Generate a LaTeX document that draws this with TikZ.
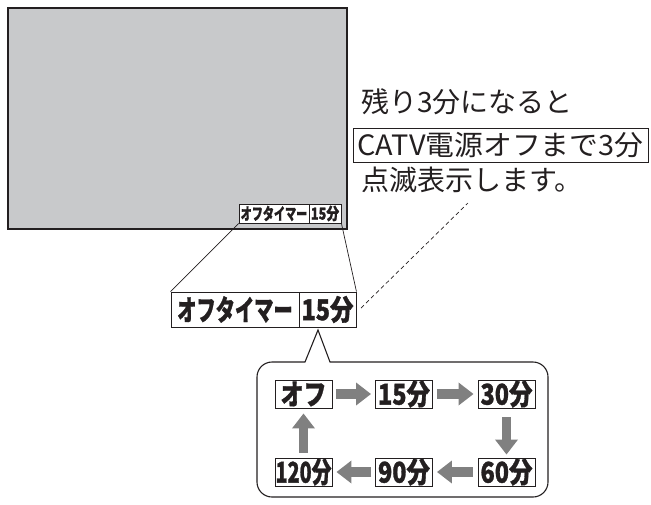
\documentclass[tikz,border=0pt]{standalone}
\usepackage{fontspec}
\usepackage{graphicx}
\newfontfamily\jp{Noto Sans CJK JP}[BoldFeatures={FakeBold=1.2}]
\usetikzlibrary{arrows.meta}
\definecolor{scr}{RGB}{200,201,203}
\definecolor{ink}{RGB}{35,31,32}
\definecolor{arr}{RGB}{128,128,128}
\newcommand{\cnd}[2][0.76]{\scalebox{#1}[1.1]{#2}}
\tikzset{
  lbl/.style={draw=ink, line width=0.9pt, fill=white, inner sep=0pt, text=ink, font=\jp\bfseries},
  big/.style={lbl, minimum height=35pt, font=\jp\bfseries\fontsize{26}{26}\selectfont},
  small/.style={lbl, minimum height=19pt, font=\jp\bfseries\fontsize{15}{15}\selectfont},
  stepbox/.style={lbl, minimum width=57pt, minimum height=28pt, font=\jp\bfseries\fontsize{26}{26}\selectfont},
  garrow/.style={draw=arr, line width=9.5pt, -{Triangle[length=15pt,width=22pt]}},
  note/.style={inner sep=0pt, text=ink, font=\jp\fontsize{28}{28}\selectfont},
}
\begin{document}
\begin{tikzpicture}[x=1pt,y=-1pt]
\useasboundingbox (0,0) rectangle (651,504);
% screen
\node (screen) [draw=ink, line width=1.4pt, fill=scr, minimum width=339pt, minimum height=221pt, inner sep=0pt] at (177.5,118.5) {};
\node (s1) [small, minimum width=70pt] at (274,213.5) {\cnd[0.74]{オフタイマー}};
\node (s2) [small, minimum width=32pt] at (325,213.5) {\cnd[0.85]{15分}};
% enlarged label
\node (b1) [big, minimum width=128pt] at (235,309.5) {\cnd[0.74]{オフタイマー}};
\node (b2) [big, minimum width=57pt] at (327.5,309.5) {\cnd[0.9]{15分}};
\draw[ink, line width=0.7pt] (s1.south west) -- (b1.north west);
\draw[ink, line width=0.7pt] (s2.south east) -- (b2.north east);
% note text
\node (t1) [note, anchor=west] at (361,102) {残り3分になると};
\node (t2) [note, draw=ink, line width=0.8pt, minimum width=295pt, minimum height=34pt] at (500.5,145) {\scalebox{1.03}[1]{CATV電源オフまで3分}};
\node (t3) [note, anchor=west] at (361,180) {点滅表示します。};
\coordinate (d1) at (361,308);
\coordinate (d2) at (468,203);
\draw[ink, line width=0.7pt, dash pattern=on 4pt off 3pt] (d1) -- (d2);
% bubble
\draw[ink, line width=1.1pt] (305,362) -- (318,330) -- (330,362) [rounded corners=15pt] -- (548,362) -- (548,497) -- (257,497) -- (257,362) [sharp corners] -- cycle;
% steps
\node (off) [stepbox] at (303.5,394) {\cnd[0.88]{オフ}};
\node (m15) [stepbox] at (404,394) {\cnd[0.9]{15分}};
\node (m30) [stepbox] at (506.5,394) {\cnd[0.9]{30分}};
\node (m60) [stepbox] at (506.5,472) {\cnd[0.9]{60分}};
\node (m90) [stepbox] at (404,472) {\cnd[0.9]{90分}};
\node (m120) [stepbox] at (303.5,472) {\cnd[0.76]{120分}};
\draw[garrow, shorten <=4pt, shorten >=4pt] (off) -- (m15);
\draw[garrow, shorten <=4pt, shorten >=4pt] (m15) -- (m30);
\draw[garrow, shorten <=9pt, shorten >=3pt] (m30) -- (m60);
\draw[garrow, shorten <=5pt, shorten >=4pt] (m60) -- (m90);
\draw[garrow, shorten <=4pt, shorten >=4pt] (m90) -- (m120);
\draw[garrow, shorten <=5pt, shorten >=5pt] (m120) -- (off);
\end{tikzpicture}
\end{document}
